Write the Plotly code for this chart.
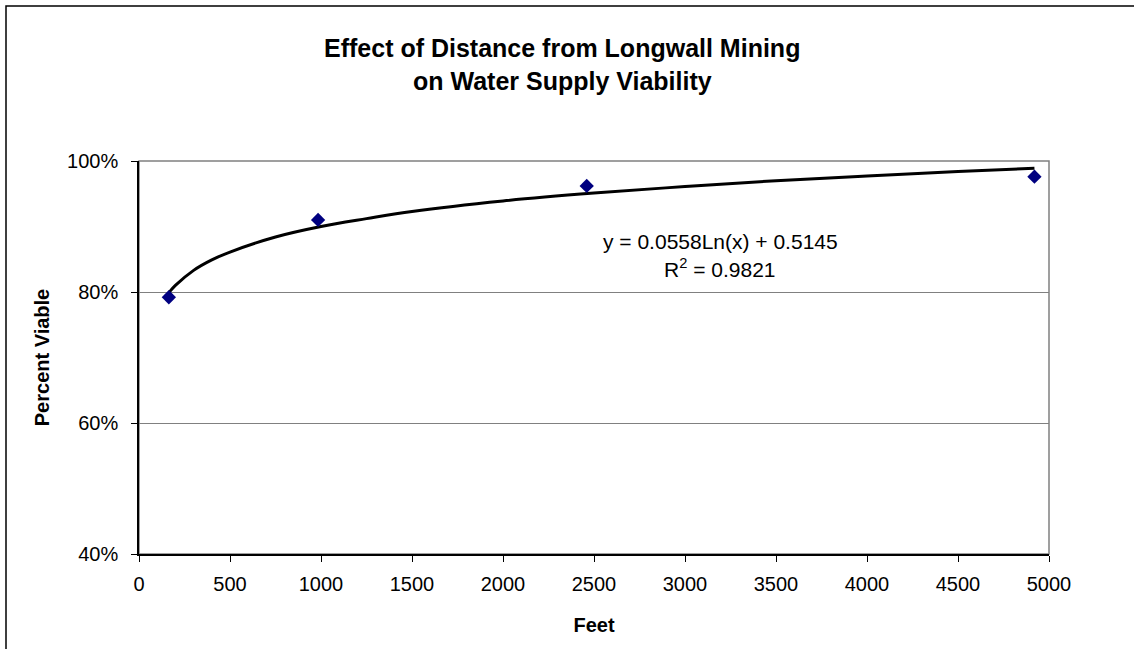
import plotly.graph_objects as go

# Observed data (feet, fraction viable)
feet = [164, 984, 2460, 4920]
viable = [0.792, 0.910, 0.962, 0.976]

# Logarithmic trendline
trend_x = [164, 200, 300, 400, 500, 750, 1000, 1250, 1500, 2000, 2500, 3000, 3500, 4000, 4500, 4920]
trend_y = [0.799, 0.810, 0.833, 0.849, 0.861, 0.884, 0.900, 0.912, 0.923, 0.939, 0.951, 0.961, 0.970, 0.977, 0.984, 0.989]

x_ticks = [0, 500, 1000, 1500, 2000, 2500, 3000, 3500, 4000, 4500, 5000]
y_ticks = [0.4, 0.6, 0.8, 1.0]
y_tick_labels = ["40%", "60%", "80%", "100%"]

title_lines = ["Effect of Distance from Longwall Mining", "on Water Supply Viability"]
equation = "y = 0.0558Ln(x) + 0.5145"
r_squared = "R<sup>2</sup> = 0.9821"

W, H = 1134, 649
L, R, T, B = 139, 85, 161, 95
FONT = "Liberation Sans, Arial, sans-serif"
TICK = 20

fig = go.Figure()
fig.add_trace(go.Scatter(
    x=trend_x, y=trend_y, mode="lines", line=dict(color="black", width=3, shape="spline"),
    hoverinfo="skip", showlegend=False))
fig.add_trace(go.Scatter(
    x=feet, y=viable, mode="markers",
    marker=dict(symbol="diamond", color="#000080", size=11, line=dict(width=0)),
    showlegend=False))

fig.update_layout(
    width=W, height=H,
    margin=dict(l=L, r=R, t=T, b=B),
    paper_bgcolor="white", plot_bgcolor="white",
    font=dict(family=FONT, color="black", size=TICK),
    showlegend=False,
)
fig.update_xaxes(
    range=[0, 5000], tickvals=x_ticks, ticks="outside", ticklen=6, tickcolor="black",
    showline=True, linecolor="black", linewidth=1.5, showgrid=False, zeroline=False,
    tickfont=dict(size=TICK, family=FONT), ticklabelstandoff=5,
    title=dict(text="<b>Feet</b>", font=dict(size=TICK, family=FONT), standoff=24),
)
fig.update_yaxes(
    range=[0.4, 1.0], tickvals=y_ticks, ticktext=y_tick_labels, ticks="outside", ticklen=6,
    tickcolor="black", showline=True, linecolor="black", linewidth=1.5,
    showgrid=True, gridcolor="#808080", gridwidth=1, zeroline=False,
    tickfont=dict(size=TICK, family=FONT), ticklabelstandoff=9,
    title=dict(text="<b>Percent Viable</b>", font=dict(size=TICK, family=FONT), standoff=12),
)


def px_to_paper_x(px):
    return (px - L) / (W - L - R)


def px_to_paper_y(py):
    return (H - B - py) / (H - T - B)


# plot area border (grey top & right)
fig.add_shape(type="rect", xref="paper", yref="paper", x0=0, x1=1, y0=0, y1=1,
              line=dict(color="#808080", width=1.5), layer="below")
# outer chart border (only top/left visible in the frame)
fig.add_shape(type="rect", xref="paper", yref="paper",
              x0=px_to_paper_x(6), x1=px_to_paper_x(W + 20),
              y0=px_to_paper_y(H + 20), y1=px_to_paper_y(6),
              line=dict(color="black", width=1.5))

fig.add_annotation(x=px_to_paper_x(562), y=px_to_paper_y(48), xref="paper", yref="paper",
                   text="<b>" + title_lines[0] + "</b>", showarrow=False,
                   font=dict(size=25, family=FONT), xanchor="center", yanchor="middle")
fig.add_annotation(x=px_to_paper_x(562), y=px_to_paper_y(81), xref="paper", yref="paper",
                   text="<b>" + title_lines[1] + "</b>", showarrow=False,
                   font=dict(size=25, family=FONT), xanchor="center", yanchor="middle")
fig.add_annotation(x=px_to_paper_x(720), y=px_to_paper_y(241), xref="paper", yref="paper",
                   text=equation, showarrow=False, font=dict(size=21, family=FONT),
                   xanchor="center", yanchor="middle")
fig.add_annotation(x=px_to_paper_x(720), y=px_to_paper_y(268), xref="paper", yref="paper",
                   text=r_squared, showarrow=False, font=dict(size=21, family=FONT),
                   xanchor="center", yanchor="middle")

fig.write_html("out.html", config={"displayModeBar": False},
               post_script="document.body.style.margin='0px';document.body.style.overflow='hidden';")
